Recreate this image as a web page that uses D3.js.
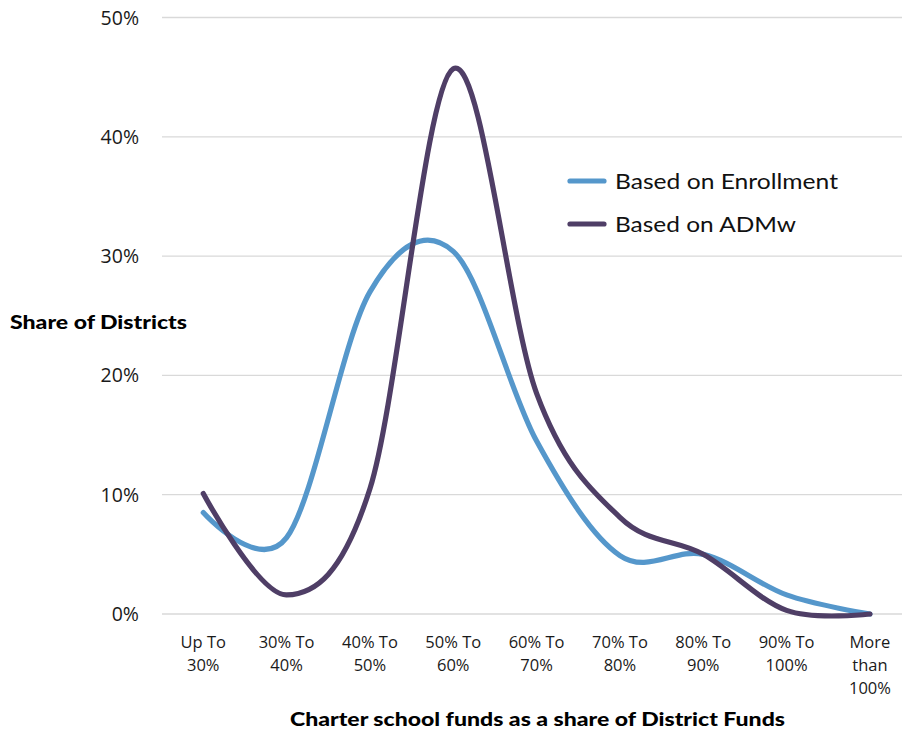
<!DOCTYPE html>
<html>
<head>
<meta charset="utf-8">
<script src="https://cdn.jsdelivr.net/npm/d3@7"></script>
<style>
    body { margin: 0; background: #fff; }
    svg { display: block; }
</style>
</head>
<body>
<div id="chart"></div>
<script>
var categories = ['Up To|30%', '30% To|40%', '40% To|50%', '50% To|60%', '60% To|70%',
    '70% To|80%', '80% To|90%', '90% To|100%', 'More|than|100%'];
var enrollment = [8.5, 6.4, 27.0, 30.4, 14.5, 4.9, 5.0, 1.6, 0];
var admw = [10.1, 1.6, 10.5, 45.7, 18.5, 8.1, 5.0, 0.3, 0];
var yTicks = [0, 10, 20, 30, 40, 50];
var seriesNames = ['Based on Enrollment', 'Based on ADMw'];
var legendWidths = [223, 181];

var width = 902, height = 730;

var svg = d3.select("#chart").append("svg")
    .attr("width", width)
    .attr("height", height);

var x = d3.scaleBand()
    .domain(categories)
    .range([161.6, 911.6]);

var y = d3.scaleLinear()
    .domain([0, 50])
    .range([614, 17.5]);

// gridlines
svg.append("g")
    .selectAll("line")
    .data(yTicks)
    .enter().append("line")
    .attr("x1", 162)
    .attr("x2", width)
    .attr("y1", function (d) { return y(d); })
    .attr("y2", function (d) { return y(d); })
    .attr("stroke", "#d9d9d9")
    .attr("stroke-width", 1.3);

// y tick labels
svg.append("g")
    .selectAll("text")
    .data(yTicks)
    .enter().append("text")
    .attr("x", 139)
    .attr("y", function (d) { return y(d) + 7; })
    .attr("text-anchor", "end")
    .attr("font-family", "'Open Sans', sans-serif")
    .attr("font-size", "19.5px")
    .attr("fill", "#1a1a1a")
    .text(function (d) { return d + "%"; });

// x tick labels
var xLabels = svg.append("g")
    .selectAll("text")
    .data(categories)
    .enter().append("text")
    .attr("x", function (d) { return x(d) + x.bandwidth() / 2; })
    .attr("y", 648)
    .attr("text-anchor", "middle")
    .attr("font-family", "'Open Sans', sans-serif")
    .attr("font-size", "16.5px")
    .attr("fill", "#1a1a1a");

xLabels.selectAll("tspan")
    .data(function (d) { return d.split("|"); })
    .enter().append("tspan")
    .attr("x", function () { return d3.select(this.parentNode).attr("x"); })
    .attr("dy", function (d, i) { return i === 0 ? 0 : 23; })
    .text(function (d) { return d; });

// axis titles
svg.append("text")
    .attr("x", 290)
    .attr("y", 726)
    .attr("textLength", 495)
    .attr("lengthAdjust", "spacingAndGlyphs")
    .attr("font-family", "Lato, sans-serif")
    .attr("font-weight", "900")
    .attr("font-size", "19px")
    .attr("fill", "#000")
    .text("Charter school funds as a share of District Funds");

svg.append("text")
    .attr("x", 10)
    .attr("y", 329)
    .attr("textLength", 177)
    .attr("lengthAdjust", "spacingAndGlyphs")
    .attr("font-family", "Lato, sans-serif")
    .attr("font-weight", "900")
    .attr("font-size", "18px")
    .attr("fill", "#000")
    .text("Share of Districts");

// lines
var line = d3.line()
    .x(function (d, i) { return x(categories[i]) + x.bandwidth() / 2; })
    .y(function (d) { return y(d); })
    .curve(d3.curveCardinal.tension(0));

var colors = ["#5597cb", "#4f3e66"];

svg.append("path")
    .datum(enrollment)
    .attr("d", line)
    .attr("fill", "none")
    .attr("stroke", colors[0])
    .attr("stroke-width", 5.2)
    .attr("stroke-linecap", "round");

svg.append("path")
    .datum(admw)
    .attr("d", line)
    .attr("fill", "none")
    .attr("stroke", colors[1])
    .attr("stroke-width", 5.2)
    .attr("stroke-linecap", "round");

// legend
var legend = svg.append("g")
    .selectAll("g")
    .data(seriesNames)
    .enter().append("g")
    .attr("transform", function (d, i) { return "translate(568," + (181 + i * 43) + ")"; });

legend.append("line")
    .attr("x1", 2)
    .attr("x2", 36)
    .attr("stroke", function (d, i) { return colors[i]; })
    .attr("stroke-width", 5.2)
    .attr("stroke-linecap", "round");

legend.append("text")
    .attr("x", 47)
    .attr("y", 8)
    .attr("textLength", function (d, i) { return legendWidths[i]; })
    .attr("lengthAdjust", "spacingAndGlyphs")
    .attr("font-family", "Lato, sans-serif")
    .attr("font-size", "22px")
    .attr("fill", "#111")
    .text(function (d) { return d; });
</script>
</body>
</html>
